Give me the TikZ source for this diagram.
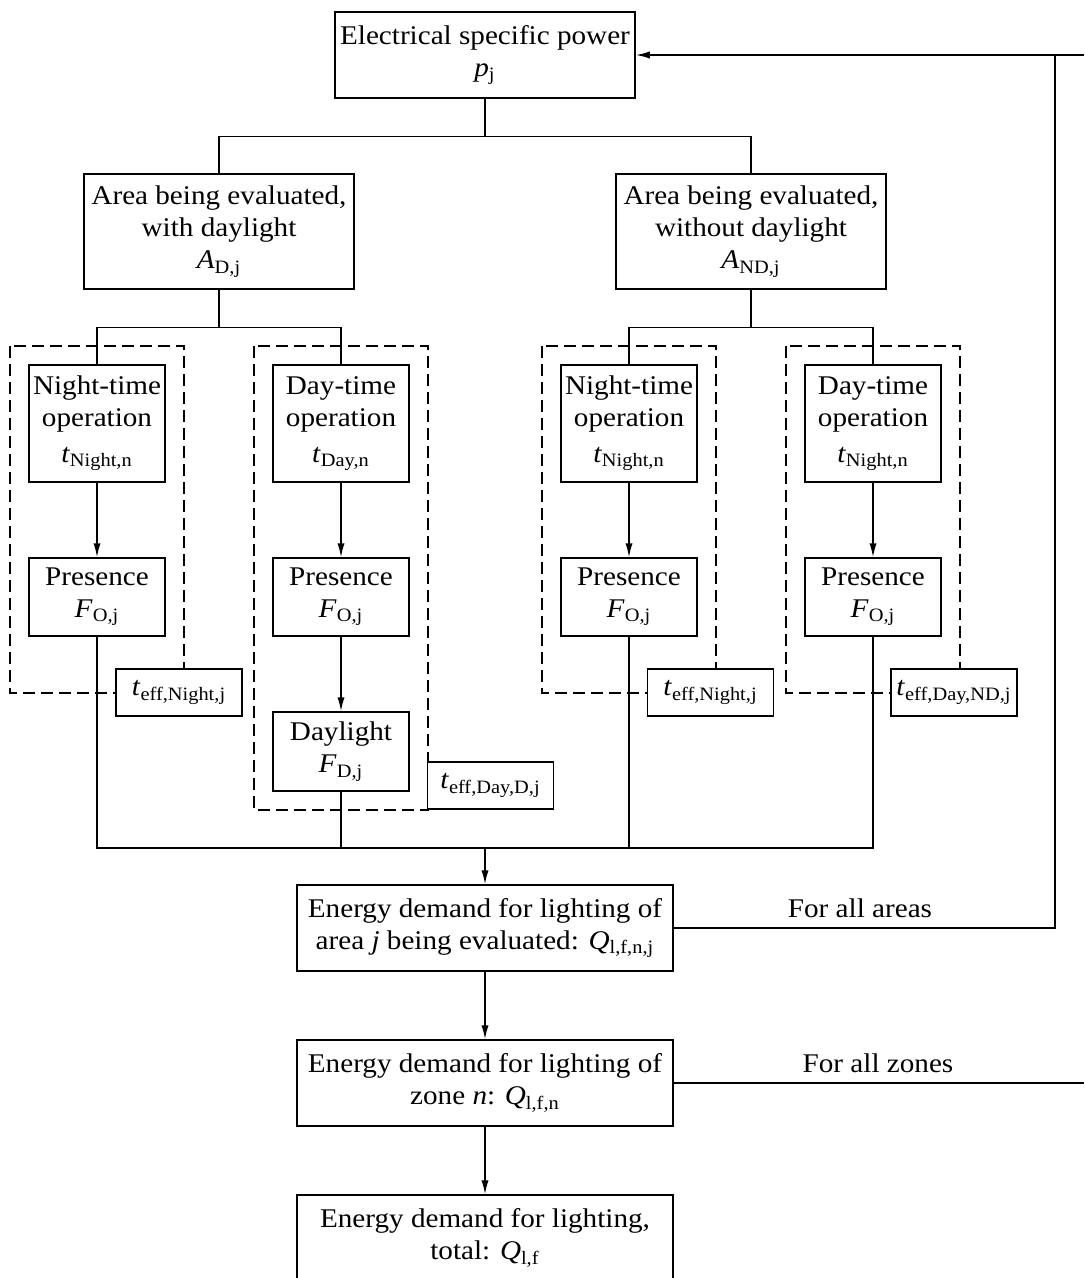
\documentclass[tikz,border=0pt]{standalone}
\usepackage{fontspec}
\setmainfont{Liberation Serif}[FakeStretch=1.08]
\usepackage{amsmath}
\usetikzlibrary{positioning, arrows.meta}

\newcommand{\qsym}[2]{\textit{#1}\textsubscript{#2}}

\tikzset{
  box/.style={draw, fill=white, align=center, inner sep=1pt,
    font=\fontsize{13.5}{16}\selectfont},
  grp/.style={draw, dash pattern=on 6pt off 3pt},
  arr/.style={-{Latex[length=7pt,width=3.6pt]}},
  lbl/.style={font=\fontsize{13.5}{16}\selectfont}
}

\begin{document}
\begin{tikzpicture}[x=0.5pt, y=-0.5pt, line width=0.75pt]
  \useasboundingbox (0,0) rectangle (1084,1278);

  % top of the chart
  \node[box, minimum width=150pt, minimum height=43pt] (pw) at (485,55)
    {Electrical specific power\\\qsym{p}{j}};
  \node[box, minimum width=135pt, minimum height=57.5pt] (ad) at (219,231.5)
    {Area being evaluated,\\with daylight\\\qsym{A}{D,j}};
  \node[box, minimum width=135pt, minimum height=57.5pt] (and) at (751,231.5)
    {Area being evaluated,\\without daylight\\\qsym{A}{ND,j}};
  \draw (pw.south) -- ++(0,38) -| (ad.north);
  \draw (pw.south) -- ++(0,38) -| (and.north);

  % dashed groups
  \foreach \cx/\bot in {97/693, 341/810, 629/693, 873/693} {
    \draw[grp] (\cx-87,346) rectangle (\cx+87,\bot);
  }

  % operation and presence per group
  \foreach \k/\cx/\what/\sub in {1/97/Night/{Night,n}, 2/341/Day/{Day,n},
      3/629/Night/{Night,n}, 4/873/Day/{Night,n}} {
    \node[box, minimum width=68pt, minimum height=58.5pt] (op\k) at (\cx,423.5)
      {\what-time\\operation\\[2pt]\qsym{t}{\sub}};
    \node[box, minimum width=68pt, minimum height=39pt] (pr\k) at (\cx,597)
      {Presence\\\qsym{F}{O,j}};
    \draw[arr] (op\k) -- (pr\k);
  }
  \node[box, minimum width=68pt, minimum height=39.5pt] (dl) at (341,751.5)
    {Daylight\\\qsym{F}{D,j}};
  \draw[arr] (pr2) -- (dl);

  \draw (ad.south) -- ++(0,38) -| (op1.north);
  \draw (ad.south) -- ++(0,38) -| (op2.north);
  \draw (and.south) -- ++(0,38) -| (op3.north);
  \draw (and.south) -- ++(0,38) -| (op4.north);

  % effective times
  \node[box, minimum width=63pt, minimum height=23.5pt] (en) at (179,692.5)
    {\qsym{t}{eff,Night,j}};
  \node[box, minimum width=63pt, minimum height=23.5pt] (edd) at (490.5,785.5)
    {\qsym{t}{eff,Day,D,j}};
  \node[box, minimum width=63pt, minimum height=23.5pt] (enn) at (710.5,692.5)
    {\qsym{t}{eff,Night,j}};
  \node[box, minimum width=63pt, minimum height=23.5pt] (ednd) at (954,692.5)
    {\qsym{t}{eff,Day,ND,j}};

  % collecting line
  \coordinate (mid) at (485,848);
  \draw (pr1.south) |- (mid) -| (pr4.south);
  \draw (dl.south) -- (dl.south |- mid);
  \draw (pr3.south) -- (pr3.south |- mid);

  % energy demand
  \node[box, minimum width=188pt, minimum height=43pt] (ea) at (485,928)
    {Energy demand for lighting of\\area \textit{j} being evaluated: \qsym{Q}{l,f,n,j}};
  \node[box, minimum width=188pt, minimum height=43pt] (ez) at (485,1083)
    {Energy demand for lighting of\\zone \textit{n}: \qsym{Q}{l,f,n}};
  \node[box, minimum width=188pt, minimum height=43pt] (et) at (485,1238)
    {Energy demand for lighting,\\total: \qsym{Q}{l,f}};
  \draw[arr] (mid) -- (ea);
  \draw[arr] (ea) -- (ez);
  \draw[arr] (ez) -- (et);

  % loops back
  \coordinate (back) at (1055,55);
  \coordinate (topend) at (1084,55);
  \coordinate (zend) at (1084,1083);
  \draw[arr] (ea.east) -| (back) -- (pw.east);
  \draw (back) -- (topend);
  \draw (ez.east) -- (zend);
  \node[lbl] (areas) at (860,908) {For all areas};
  \node[lbl] (zones) at (878,1063) {For all zones};
\end{tikzpicture}
\end{document}
